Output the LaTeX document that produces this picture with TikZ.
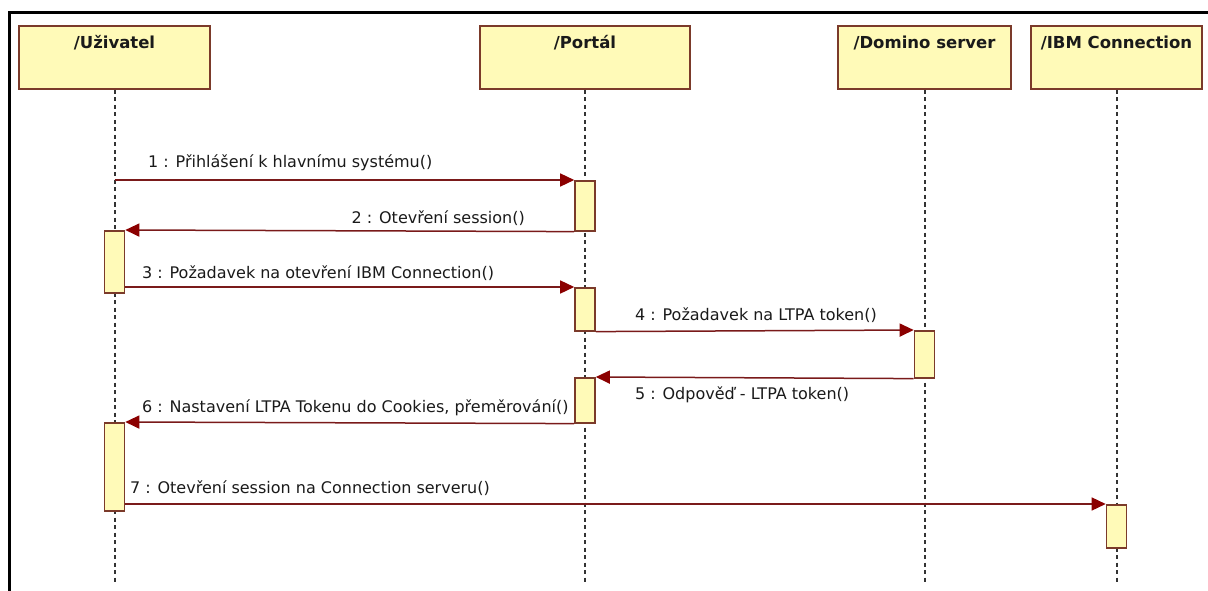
\documentclass[tikz,border=0pt]{standalone}
\usepackage{fontspec}
\setmainfont{DejaVu Sans}
\usetikzlibrary{arrows.meta}
\definecolor{boxborder}{HTML}{7B3A2A}
\definecolor{boxfill}{HTML}{FFFAB8}
\definecolor{msgcol}{HTML}{7A1A1A}
\definecolor{tipcol}{HTML}{8B0000}
\definecolor{txtcol}{HTML}{1A1A1A}
\tikzset{
  head/.style={draw=boxborder, fill=boxfill, line width=2pt, minimum height=63pt, anchor=north, inner sep=0pt},
  headtext/.style={font=\bfseries\fontsize{16.5}{18}\selectfont, text=txtcol, anchor=center},
  life/.style={line width=2pt, dash pattern=on 4pt off 3.5pt, draw=black!80},
  act/.style={draw=boxborder, fill=boxfill, line width=1.6pt, minimum width=20pt, anchor=north, inner sep=0pt},
  msg/.style={draw=msgcol, line width=1.5pt, -{Triangle[length=14pt, width=13pt, fill=tipcol, color=tipcol]}},
  lbl/.style={font=\fontsize{16}{18}\selectfont, text=txtcol, inner sep=0pt},
  frameline/.style={line width=3pt, draw=black}
}
\begin{document}
\begin{tikzpicture}[x=1pt, y=-1pt]
\useasboundingbox (0,0) rectangle (1208,591);
% frame
\coordinate (ftl) at (9,13);
\coordinate (ftr) at (1208,13);
\coordinate (fbl) at (9,591);
\draw[frameline] (ftr) -- (ftl) -- (fbl);
% headers
\node[head, minimum width=191pt, label={[headtext, yshift=-18pt]north:/Uživatel}] (u) at (114.5,25) {};
\node[head, minimum width=210pt, label={[headtext, yshift=-18pt]north:/Portál}] (p) at (585,25) {};
\node[head, minimum width=173pt, label={[headtext, yshift=-18pt]north:/Domino server}] (d) at (924.5,25) {};
\node[head, minimum width=171pt, label={[headtext, yshift=-18pt]north:/IBM Connection}] (i) at (1116.5,25) {};
% lifeline ends
\coordinate (ue) at (114.5,583);
\coordinate (pe) at (585,583);
\coordinate (de) at (924.5,583);
\coordinate (ie) at (1116.5,583);
\draw[life] (u.south) -- (ue);
\draw[life] (p.south) -- (pe);
\draw[life] (d.south) -- (de);
\draw[life] (i.south) -- (ie);
% activations
\node[act, minimum height=50pt] (p1) at (585,180) {};
\node[act, minimum height=62pt] (u1) at (114.5,230) {};
\node[act, minimum height=43pt] (p2) at (585,287) {};
\node[act, minimum height=47pt] (d1) at (924.5,330) {};
\node[act, minimum height=45pt] (p3) at (585,377) {};
\node[act, minimum height=88pt] (u2) at (114.5,422) {};
\node[act, minimum height=43pt] (i1) at (1116.5,504) {};
% messages
\draw[msg] (u.south |- p1.north west) -- (p1.north west);
\draw[msg] (p1.south west) -- (u1.north east);
\draw[msg] (u1.east |- p2.north west) -- (p2.north west);
\draw[msg] (p2.south east) -- (d1.north west);
\draw[msg] (d1.south west) -- (p3.north east);
\draw[msg] (p3.south west) -- (u2.north east);
\draw[msg] (u2.east |- i1.north west) -- (i1.north west);
% labels
\node[lbl, anchor=west] (l1) at (148,163) {1 : Přihlášení k hlavnímu systému()};
\node[lbl, anchor=east] (l2) at (525,218) {2 : Otevření session()};
\node[lbl, anchor=west] (l3) at (142,273) {3 : Požadavek na otevření IBM Connection()};
\node[lbl, anchor=west] (l4) at (635,315) {4 : Požadavek na LTPA token()};
\node[lbl, anchor=west] (l5) at (635,395) {5 : Odpověď - LTPA token()};
\node[lbl, anchor=west] (l6) at (142,408) {6 : Nastavení LTPA Tokenu do Cookies, přeměrování()};
\node[lbl, anchor=west] (l7) at (130,488) {7 : Otevření session na Connection serveru()};
\end{tikzpicture}
\end{document}
